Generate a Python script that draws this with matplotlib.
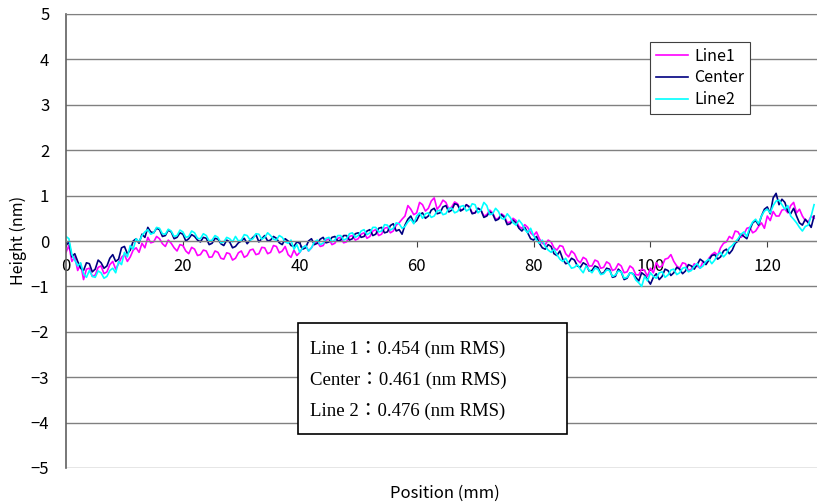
import numpy as np
import matplotlib
matplotlib.use("Agg")
import matplotlib.pyplot as plt
from matplotlib.patches import Rectangle

# Profile positions (mm), one sample every 0.5 mm
position = np.arange(0, 128.5, 0.5)

# Heights (nm)
line1 = [
    -0.25, -0.10, -0.45, -0.35, -0.65, -0.50, -0.85, -0.62, -0.60, -0.78,
    -0.75, -0.58, -0.55, -0.72, -0.68, -0.52, -0.45, -0.62, -0.50, -0.36,
    -0.30, -0.45, -0.35, -0.20, -0.15, -0.25, -0.05, -0.15, 0.08, -0.04,
    -0.02, 0.10, 0.05, -0.06, -0.12, 0.02, -0.05, -0.15, -0.22, -0.08,
    -0.10, -0.22, -0.28, -0.14, -0.18, -0.32, -0.30, -0.20, -0.22, -0.36,
    -0.35, -0.22, -0.25, -0.38, -0.40, -0.26, -0.28, -0.42, -0.38, -0.26,
    -0.22, -0.36, -0.32, -0.20, -0.18, -0.30, -0.28, -0.14, -0.15, -0.28,
    -0.25, -0.10, -0.12, -0.26, -0.22, -0.12, -0.30, -0.36, -0.20, -0.32,
    -0.25, -0.15, -0.10, -0.22, -0.15, -0.05, -0.02, -0.12, -0.10, 0.02,
    0.05, -0.08, -0.05, 0.06, 0.08, -0.04, -0.02, 0.10, 0.12, 0.02,
    0.05, 0.15, 0.18, 0.06, 0.10, 0.22, 0.25, 0.12, 0.15, 0.28,
    0.30, 0.18, 0.22, 0.35, 0.40, 0.48, 0.55, 0.78, 0.70, 0.58,
    0.62, 0.85, 0.80, 0.66, 0.72, 0.88, 0.95, 0.70, 0.78, 0.90,
    0.85, 0.70, 0.75, 0.86, 0.82, 0.68, 0.70, 0.80, 0.76, 0.62,
    0.62, 0.72, 0.68, 0.55, 0.58, 0.68, 0.62, 0.48, 0.50, 0.60,
    0.55, 0.40, 0.42, 0.50, 0.45, 0.32, 0.28, 0.36, 0.30, 0.18,
    0.12, 0.20, 0.05, -0.05, -0.08, 0.02, -0.02, -0.15, -0.20, -0.10,
    -0.12, -0.28, -0.35, -0.22, -0.28, -0.42, -0.48, -0.36, -0.40, -0.55,
    -0.55, -0.42, -0.45, -0.60, -0.58, -0.46, -0.50, -0.65, -0.62, -0.50,
    -0.55, -0.70, -0.68, -0.55, -0.60, -0.74, -0.75, -0.62, -0.65, -0.78,
    -0.60, -0.70, -0.48, -0.58, -0.55, -0.40, -0.38, -0.30, -0.45, -0.55,
    -0.60, -0.48, -0.50, -0.65, -0.62, -0.50, -0.55, -0.60, -0.45, -0.50,
    -0.38, -0.30, -0.25, -0.32, -0.15, -0.05, -0.02, 0.10, 0.05, 0.22,
    0.20, 0.08, 0.15, 0.28, 0.30, 0.18, 0.22, 0.32, 0.40, 0.28,
    0.55, 0.45, 0.65, 0.55, 0.55, 0.68, 0.70, 0.62, 0.78, 0.85,
    0.62, 0.70, 0.55, 0.45, 0.42, 0.55, 0.50,
]

center = [
    -0.10, -0.02, -0.35, -0.28, -0.45, -0.60, -0.65, -0.48, -0.50, -0.68,
    -0.62, -0.42, -0.48, -0.60, -0.55, -0.38, -0.30, -0.45, -0.40, -0.15,
    -0.12, -0.28, -0.20, 0.00, 0.05, -0.05, 0.15, 0.08, 0.30, 0.20,
    0.18, 0.28, 0.25, 0.10, 0.12, 0.24, 0.20, 0.05, 0.08, 0.18,
    0.15, 0.00, 0.05, 0.14, 0.10, 0.02, -0.02, 0.08, 0.06, -0.08,
    -0.05, 0.06, 0.04, -0.06, -0.10, 0.02, -0.02, -0.15, -0.12, -0.04,
    0.00, 0.06, -0.06, 0.02, 0.08, 0.14, -0.02, 0.05, 0.12, 0.00,
    0.02, 0.10, 0.06, -0.04, -0.08, 0.05, 0.00, -0.10, -0.12, -0.02,
    -0.05, -0.18, -0.15, 0.00, 0.05, -0.08, -0.05, 0.04, 0.08, -0.04,
    -0.02, 0.08, 0.10, 0.00, 0.02, 0.12, 0.12, 0.02, 0.05, 0.16,
    0.18, 0.08, 0.10, 0.22, 0.25, 0.12, 0.15, 0.28, 0.30, 0.18,
    0.20, 0.34, 0.38, 0.22, 0.25, 0.15, 0.35, 0.48, 0.55, 0.40,
    0.45, 0.58, 0.62, 0.50, 0.55, 0.68, 0.72, 0.60, 0.62, 0.75,
    0.78, 0.64, 0.68, 0.82, 0.80, 0.66, 0.70, 0.80, 0.75, 0.60,
    0.62, 0.72, 0.68, 0.52, 0.55, 0.64, 0.60, 0.45, 0.48, 0.58,
    0.52, 0.36, 0.38, 0.46, 0.40, 0.28, 0.22, 0.30, 0.18, 0.05,
    0.02, 0.10, -0.05, -0.15, -0.18, -0.08, -0.12, -0.28, -0.32, -0.22,
    -0.40, -0.50, -0.48, -0.38, -0.42, -0.55, -0.58, -0.48, -0.52, -0.66,
    -0.65, -0.55, -0.58, -0.72, -0.70, -0.60, -0.62, -0.80, -0.78, -0.62,
    -0.68, -0.85, -0.82, -0.70, -0.72, -0.80, -0.88, -0.70, -0.75, -0.85,
    -0.95, -0.80, -0.72, -0.85, -0.78, -0.62, -0.65, -0.76, -0.70, -0.58,
    -0.62, -0.72, -0.66, -0.52, -0.55, -0.62, -0.52, -0.40, -0.45, -0.52,
    -0.42, -0.32, -0.30, -0.40, -0.35, -0.22, -0.18, -0.28, -0.20, -0.05,
    0.00, 0.15, 0.10, 0.05, 0.25, 0.40, 0.45, 0.35, 0.55, 0.70,
    0.75, 0.60, 0.95, 1.05, 0.80, 0.92, 0.85, 0.65, 0.60, 0.72,
    0.55, 0.40, 0.35, 0.48, 0.40, 0.30, 0.55,
]

line2 = [
    0.10, 0.05, -0.30, -0.42, -0.55, -0.48, -0.72, -0.80, -0.65, -0.78,
    -0.80, -0.66, -0.70, -0.82, -0.78, -0.65, -0.60, -0.70, -0.45, -0.52,
    -0.25, -0.35, -0.10, -0.18, 0.05, -0.02, 0.12, 0.20, 0.25, 0.15,
    0.18, 0.30, 0.28, 0.16, 0.15, 0.26, 0.22, 0.10, 0.12, 0.24,
    0.20, 0.08, 0.10, 0.22, 0.18, 0.06, 0.05, 0.16, 0.12, 0.00,
    0.02, 0.12, 0.08, -0.04, -0.02, 0.08, 0.05, -0.02, 0.10, 0.00,
    0.02, 0.14, 0.12, 0.02, 0.05, 0.16, 0.15, 0.04, 0.08, 0.18,
    0.12, 0.04, 0.02, 0.12, 0.08, -0.02, -0.05, 0.02, -0.18, -0.08,
    -0.25, -0.15, -0.10, -0.22, -0.15, -0.02, 0.02, -0.08, -0.05, 0.06,
    0.08, -0.02, 0.02, 0.12, 0.12, 0.02, 0.05, 0.16, 0.18, 0.08,
    0.12, 0.22, 0.25, 0.14, 0.18, 0.30, 0.30, 0.20, 0.22, 0.36,
    0.35, 0.24, 0.28, 0.40, 0.38, 0.28, 0.32, 0.42, 0.48, 0.38,
    0.55, 0.62, 0.50, 0.60, 0.62, 0.52, 0.55, 0.66, 0.68, 0.58,
    0.60, 0.72, 0.72, 0.62, 0.65, 0.76, 0.78, 0.66, 0.70, 0.82,
    0.80, 0.62, 0.68, 0.85, 0.78, 0.58, 0.60, 0.72, 0.65, 0.50,
    0.48, 0.60, 0.52, 0.40, 0.35, 0.46, 0.38, 0.25, 0.18, 0.28,
    0.12, 0.02, -0.05, 0.02, -0.12, -0.20, -0.25, -0.18, -0.30, -0.40,
    -0.45, -0.38, -0.50, -0.60, -0.58, -0.52, -0.62, -0.70, -0.55, -0.64,
    -0.70, -0.60, -0.62, -0.74, -0.72, -0.64, -0.65, -0.78, -0.75, -0.66,
    -0.68, -0.82, -0.80, -0.70, -0.72, -0.86, -0.92, -1.00, -0.78, -0.88,
    -0.70, -0.78, -0.82, -0.70, -0.68, -0.80, -0.75, -0.64, -0.62, -0.74,
    -0.70, -0.60, -0.58, -0.68, -0.65, -0.55, -0.50, -0.60, -0.55, -0.45,
    -0.40, -0.50, -0.42, -0.30, -0.25, -0.35, -0.28, -0.15, -0.10, -0.02,
    0.05, 0.15, 0.20, 0.10, 0.30, 0.42, 0.48, 0.38, 0.55, 0.66,
    0.70, 0.62, 0.78, 0.88, 0.90, 0.80, 0.70, 0.78, 0.55, 0.48,
    0.40, 0.30, 0.22, 0.32, 0.35, 0.55, 0.80,
]

series_names = ["Line1", "Center", "Line2"]
rms_labels = ["Line 1：0.454 (nm RMS)",
              "Center：0.461 (nm RMS)",
              "Line 2：0.476 (nm RMS)"]

sans = ["Noto Sans CJK JP", "DejaVu Sans"]
serif = ["Liberation Serif", "Noto Sans CJK JP"]

fig = plt.figure(figsize=(8.17, 5.04), dpi=100)
ax = fig.add_axes([66 / 817, 1 - 468 / 504, 1 - 66 / 817, (468 - 14) / 504])

ax.plot(position, line1, color="#ff00ff", lw=1.2, label=series_names[0])
ax.plot(position, center, color="#000080", lw=1.2, label=series_names[1])
ax.plot(position, line2, color="#00ffff", lw=1.2, label=series_names[2])

ax.set_xlim(0, 128.5)
ax.set_ylim(-5, 5)
ax.set_yticks(np.arange(-5, 6, 1))
ax.set_xticks(np.arange(0, 121, 20))
ax.yaxis.grid(True, color="#808080", lw=1)
ax.set_axisbelow(True)

# x axis crosses at y = 0
ax.spines["bottom"].set_position(("data", 0))
ax.spines["bottom"].set_color("#808080")
ax.spines["top"].set_color("#808080")
ax.spines["right"].set_visible(False)
ax.spines["left"].set_color("#606060")
ax.spines["left"].set_linewidth(1.2)
ax.tick_params(axis="x", direction="out", length=4, color="#404040", pad=8)
ax.tick_params(axis="y", length=0, pad=12)
ax.set_yticklabels([f"{v}".replace("-", "−") for v in range(-5, 6)])
for lab in ax.get_xticklabels() + ax.get_yticklabels():
    lab.set_family(sans)
    lab.set_fontsize(12)

fig.text(445 / 817, 1 - 493 / 504, "Position (mm)", ha="center", va="center",
         family=sans, fontsize=12)
fig.text(18 / 817, 1 - 240 / 504, "Height (nm)", ha="center", va="center",
         rotation=90, family=sans, fontsize=11.5)

leg = ax.legend(loc="upper left", bbox_to_anchor=(650 / 817, 1 - 42 / 504),
                bbox_transform=fig.transFigure, borderaxespad=0, fancybox=False,
                framealpha=1, edgecolor="#404040", handlelength=2.0,
                handletextpad=0.4, borderpad=0.35, labelspacing=0.3,
                prop={"family": sans, "size": 11.5})
leg.get_frame().set_linewidth(0.8)

# RMS annotation box
fig.add_artist(Rectangle((298 / 817, 1 - 434 / 504), (567 - 298) / 817, (434 - 323) / 504,
                         transform=fig.transFigure, facecolor="white",
                         edgecolor="black", lw=1.2, zorder=5))
for i, txt in enumerate(rms_labels):
    fig.text(310 / 817, 1 - (349 + 31 * i) / 504, txt, ha="left", va="center",
             family=serif, fontsize=13.5, zorder=6)

fig.savefig("out.png", dpi=100)
